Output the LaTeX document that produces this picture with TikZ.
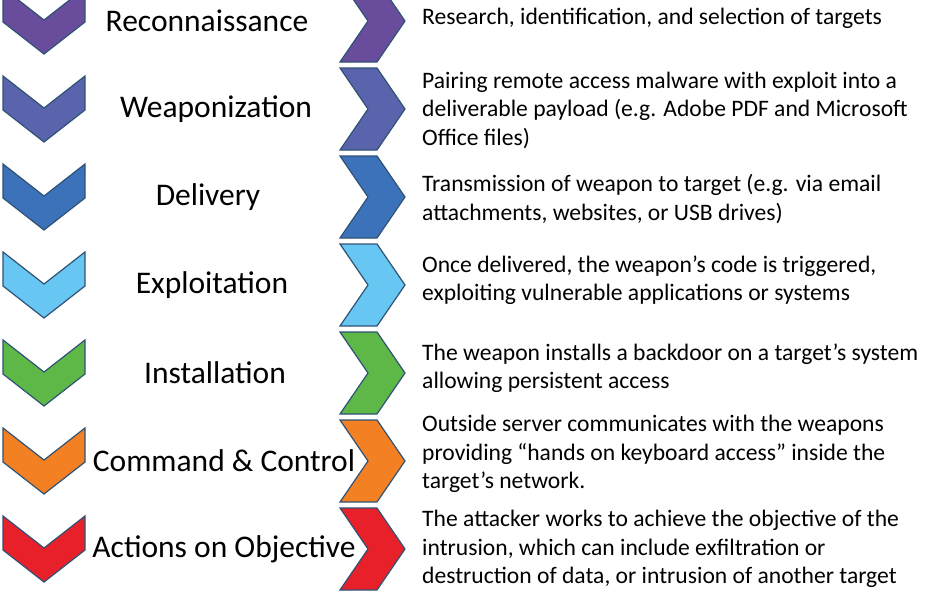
\documentclass[tikz,border=0pt]{standalone}
\usepackage{fontspec}
\setmainfont{Carlito}
\definecolor{edgeblue}{HTML}{2F5275}
\definecolor{cRecon}{HTML}{6A4C9C}
\definecolor{cWeap}{HTML}{5A64AC}
\definecolor{cDeliv}{HTML}{3B72B9}
\definecolor{cExpl}{HTML}{68C6F2}
\definecolor{cInst}{HTML}{5DB848}
\definecolor{cCmd}{HTML}{F48024}
\definecolor{cAct}{HTML}{E8202A}
\tikzset{
  chev/.style={draw=edgeblue, line width=1.2pt, line join=miter},
  phase/.style={font=\fontsize{31.5}{36}\selectfont, inner sep=0pt},
  descr/.style={font=\fontsize{23.6}{28.5}\selectfont, align=left, anchor=west, inner sep=0pt}
}
\begin{document}
\begin{tikzpicture}[x=1pt,y=-1pt]
  \useasboundingbox (0,0) rectangle (948,592);
  \clip (0,0) rectangle (948,592);
  % chevrons and labels, one row per phase
  \foreach \col/\lx/\name [count=\i from 0] in
  {cRecon/207/Reconnaissance, cWeap/216/Weaponization, cDeliv/208/Delivery,
   cExpl/212/Exploitation, cInst/215/Installation, cCmd/224/Command \& Control,
   cAct/224/Actions on Objective}{
      \pgfmathsetmacro{\yc}{21+88*\i}
      % down chevron
      \filldraw[chev, fill=\col] (3,\yc-33) -- (44,\yc-1) -- (85,\yc-33) -- (85,\yc+1)
          -- (44,\yc+33) -- (3,\yc+1) -- cycle;
      % right chevron
      \filldraw[chev, fill=\col] (340,\yc-41) -- (377,\yc-41) -- (405,\yc) -- (377,\yc+41)
          -- (340,\yc+41) -- (368,\yc) -- cycle;
      \node[phase] (phase\i) at (\lx,\yc) {\name};
  }
  % descriptions
  \node[descr] (d0) at (422,18) {Research, identification, and selection of targets};
  \node[descr] (d1) at (422,110) {Pairing remote access malware with exploit into a\\deliverable payload (e.g. Adobe PDF and Microsoft\\Office files)};
  \node[descr] (d2) at (422,199) {Transmission of weapon to target (e.g. via email\\attachments, websites, or USB drives)};
  \node[descr] (d3) at (422,280) {Once delivered, the weapon’s code is triggered,\\exploiting vulnerable applications or systems};
  \node[descr] (d4) at (422,368) {The weapon installs a backdoor on a target’s system\\allowing persistent access};
  \node[descr] (d5) at (422,454) {Outside server communicates with the weapons\\providing “hands on keyboard access” inside the\\target’s network.};
  \node[descr] (d6) at (422,549) {The attacker works to achieve the objective of the\\intrusion, which can include exfiltration or\\destruction of data, or intrusion of another target};
\end{tikzpicture}
\end{document}
